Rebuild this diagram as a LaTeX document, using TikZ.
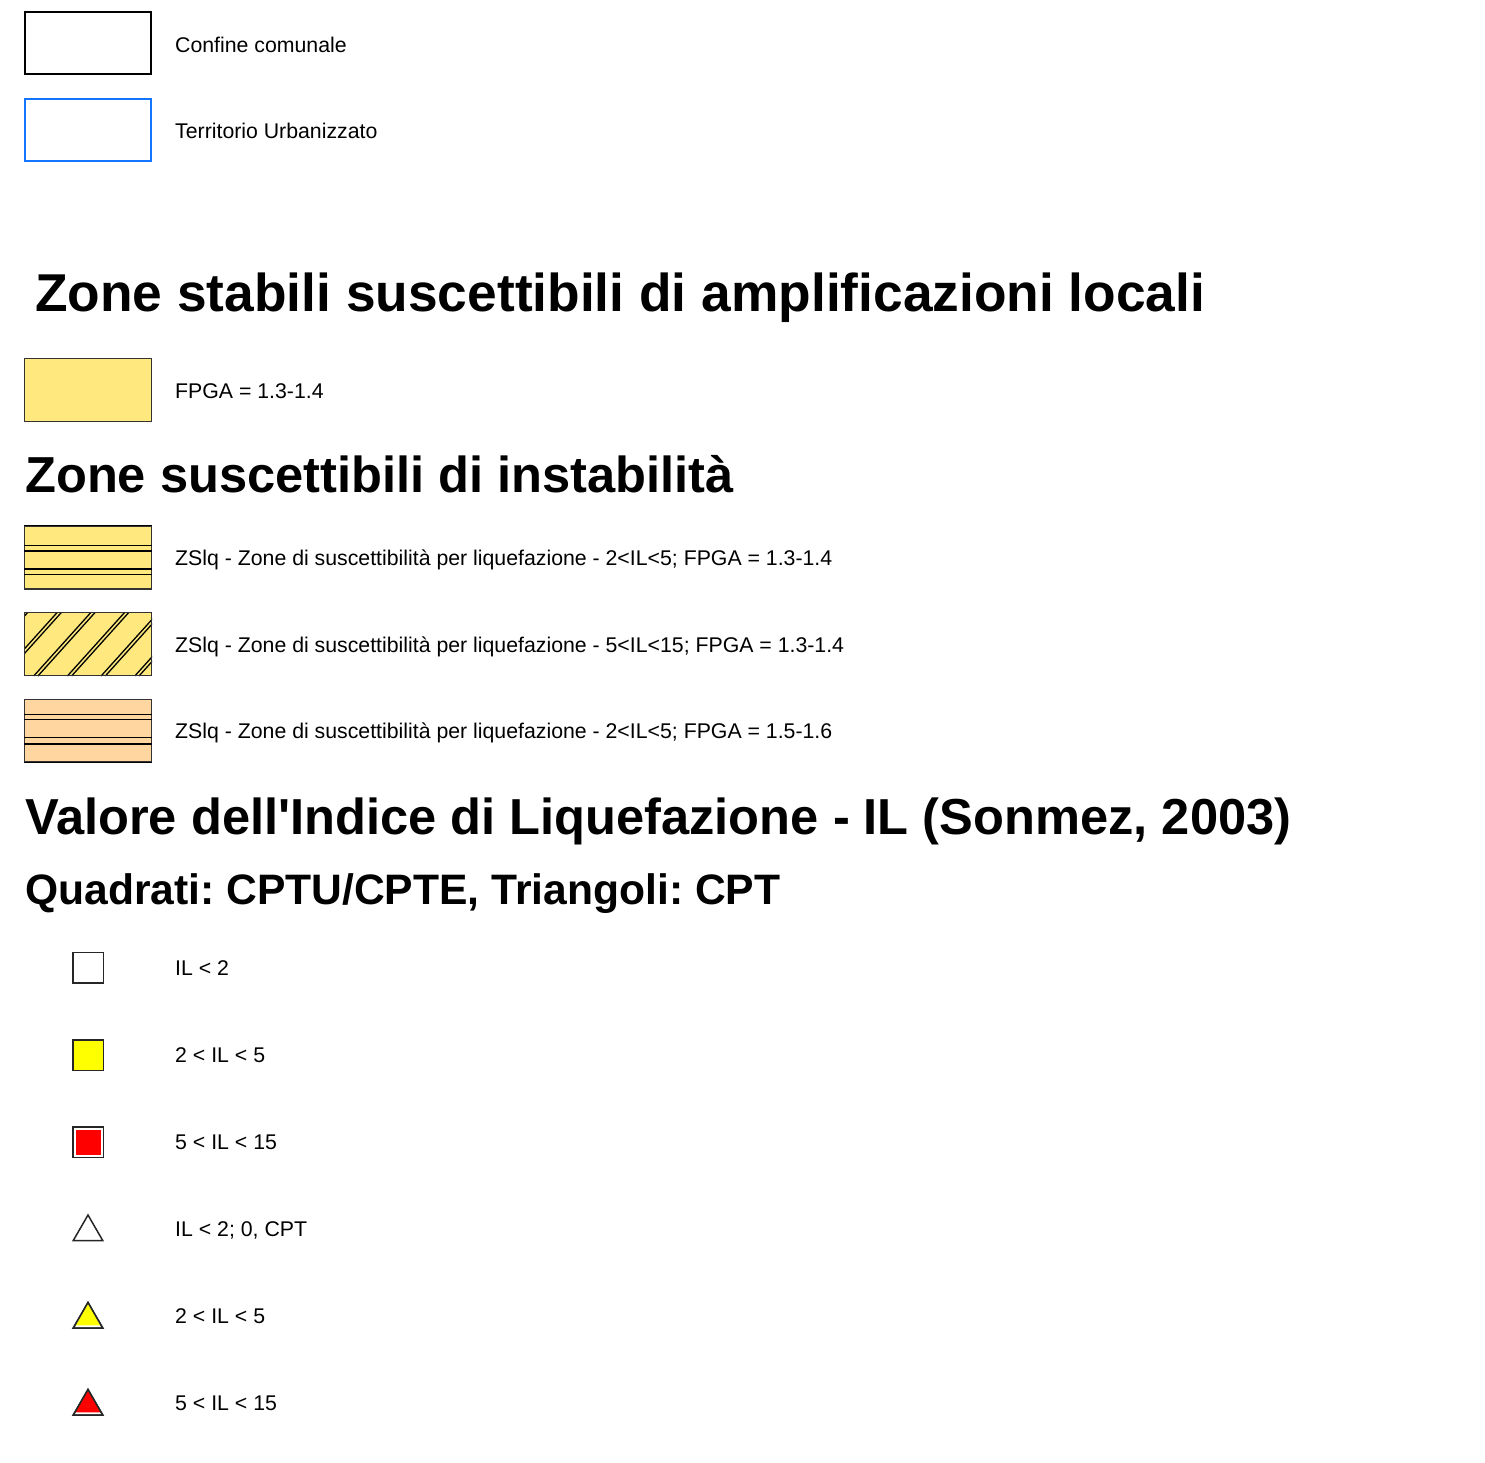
\documentclass[tikz,border=0pt]{standalone}
\usepackage{fontspec}
\setmainfont{Liberation Sans}
\usetikzlibrary{shapes.geometric,calc}

\definecolor{fpgayellow}{RGB}{255,233,127}
\definecolor{fpgaorange}{RGB}{255,213,160}
\definecolor{urbblue}{RGB}{20,118,255}
\definecolor{ilyellow}{RGB}{255,255,0}
\definecolor{ilred}{RGB}{255,0,0}

\begin{document}
\frenchspacing
\begin{tikzpicture}[x=1pt,y=-1pt,
  swatch/.style={draw=black!80, line width=1.3pt, minimum width=126.7pt, minimum height=62.7pt, inner sep=0pt},
  hatchline/.style={line width=1.3pt, black},
  legendtext/.style={anchor=base west, inner sep=0pt, font=\fontsize{21.28}{25}\selectfont},
  heading/.style={anchor=base west, inner sep=0pt, font=\bfseries\fontsize{50.6}{60}\selectfont},
  subheading/.style={anchor=base west, inner sep=0pt, font=\bfseries\fontsize{42.6}{50}\selectfont},
  ilsquare/.style={draw=black!85, line width=1.5pt, minimum size=30.5pt, inner sep=0pt},
  iltriangle/.style={draw=black!85, line width=1.5pt, regular polygon, regular polygon sides=3, minimum size=34pt, inner sep=0pt},
  iltrifill/.style={regular polygon, regular polygon sides=3, minimum size=29pt, inner sep=0pt}]
\useasboundingbox (0,0) rectangle (1485,1463);

\node[swatch, draw=black, line width=2pt, minimum width=126pt, minimum height=62pt] (confine) at (88,43) {};
\node[legendtext] (confinetxt) at (175,52.7) {Confine comunale};
\node[swatch, draw=urbblue, line width=2pt, minimum width=126pt, minimum height=62pt] (urb) at (88,130) {};
\node[legendtext] (urbtxt) at (175,138.7) {Territorio Urbanizzato};

\node[heading, font=\bfseries\fontsize{53.3}{60}\selectfont] (stabili) at (35,311) {Zone stabili suscettibili di amplificazioni locali};
\node[swatch, fill=fpgayellow] (fpga) at (88,390) {};
\node[legendtext] (fpgatxt) at (175,398.7) {FPGA = 1.3-1.4};

\node[heading] (instab) at (25,492.3) {Zone suscettibili di instabilità};

\node[swatch, fill=fpgayellow] (zsl1) at (88,557.5) {};
\draw[hatchline] (zsl1.north west) -- (zsl1.north east);
\foreach \dy in {20,25.5,43.5,49}
  \draw[hatchline] ($(zsl1.north west)+(0,\dy)$) -- ($(zsl1.north east)+(0,\dy)$);
\node[legendtext] (zsl1txt) at (175,565) {ZSlq - Zone di suscettibilità per liquefazione - 2<IL<5; FPGA = 1.3-1.4};

\node[swatch, fill=fpgayellow] (zsl2) at (88,644) {};
\begin{scope}
\clip (zsl2.north west) rectangle (zsl2.south east);
\foreach \dx in {-57.7,-24,9.7,43.4,77.1,110.8} {
  \draw[hatchline] ($(zsl2.south west)+(\dx,0)$) -- ++(72,-80);
  \draw[hatchline] ($(zsl2.south west)+(\dx+4.2,0)$) -- ++(72,-80);
}
\end{scope}
\node[swatch, fill=none] (zsl2b) at (zsl2.center) {};
\node[legendtext] (zsl2txt) at (175,652) {ZSlq - Zone di suscettibilità per liquefazione - 5<IL<15; FPGA = 1.3-1.4};

\node[swatch, fill=fpgaorange] (zsl3) at (88,730.5) {};
\foreach \dy in {16,21,39,45.5}
  \draw[hatchline] ($(zsl3.north west)+(0,\dy)$) -- ($(zsl3.north east)+(0,\dy)$);
\draw[hatchline] (zsl3.south west) -- (zsl3.south east);
\node[legendtext] (zsl3txt) at (175,738.5) {ZSlq - Zone di suscettibilità per liquefazione - 2<IL<5; FPGA = 1.5-1.6};

\node[heading] (ilvalue) at (25,834) {Valore dell\textquotesingle Indice di Liquefazione - IL (Sonmez, 2003)};
\node[subheading] (ilkind) at (25,904) {Quadrati: CPTU/CPTE, Triangoli: CPT};

\node[ilsquare, fill=white] (sq1) at (88,967.5) {};
\node[legendtext] (sq1txt) at (175,975.7) {IL < 2};
\node[ilsquare, fill=ilyellow] (sq2) at (88,1055) {};
\node[legendtext] (sq2txt) at (175,1062.7) {2 < IL < 5};
\node[ilsquare, fill=white] (sq3) at (88,1142) {};
\node[fill=ilred, minimum size=25pt, inner sep=0pt] (sq3in) at (sq3.center) {};
\node[legendtext] (sq3txt) at (175,1149.7) {5 < IL < 15};

\node[iltriangle, fill=white] (tr1) at (88,1232) {};
\node[legendtext] (tr1txt) at (175,1236.7) {IL < 2; 0, CPT};
\node[iltriangle, fill=white] (tr2) at (88,1319.5) {};
\node[iltrifill, fill=ilyellow] (tr2in) at (88,1318.2) {};
\node[iltriangle] (tr2b) at (tr2.center) {};
\node[legendtext] (tr2txt) at (175,1323.7) {2 < IL < 5};
\node[iltriangle, fill=white] (tr3) at (88,1406.5) {};
\node[iltrifill, fill=ilred] (tr3in) at (88,1405.2) {};
\node[iltriangle] (tr3b) at (tr3.center) {};
\node[legendtext] (tr3txt) at (175,1410) {5 < IL < 15};
\end{tikzpicture}
\end{document}
